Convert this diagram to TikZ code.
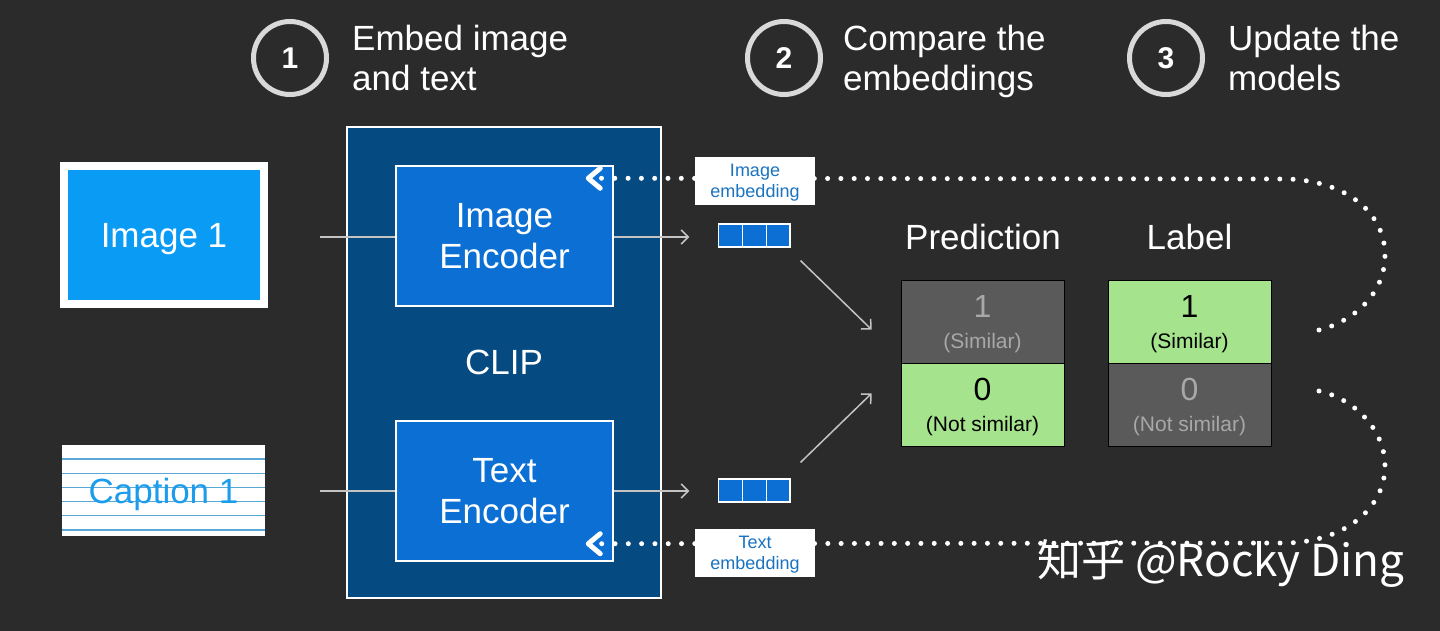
\documentclass[tikz,border=0pt]{standalone}
\usepackage{fontspec}
\setmainfont{Liberation Sans}
\newfontfamily\cjk{Noto Sans CJK SC}
\usetikzlibrary{arrows.meta,positioning,shadows}
\definecolor{bg}{HTML}{2B2B2B}
\definecolor{clipblue}{HTML}{064A82}
\definecolor{encblue}{HTML}{0B6FD3}
\definecolor{imgblue}{HTML}{0A9BF5}
\definecolor{capblue}{HTML}{1B9CEC}
\definecolor{capline}{HTML}{5AA8D6}
\definecolor{embtext}{HTML}{1A73C0}
\definecolor{cellgray}{HTML}{5A5A5A}
\definecolor{celltext}{HTML}{A8A8A8}
\definecolor{cellgreen}{HTML}{A5E38D}
\definecolor{linegray}{HTML}{C4C4C4}
\definecolor{ringgray}{HTML}{D9D9D9}
\tikzset{
  ringnum/.style={circle,draw=ringgray,line width=5pt,minimum size=73pt,inner sep=0pt,text=white,font=\fontsize{30}{30}\selectfont\bfseries},
  ringtext/.style={inner sep=0pt,align=left,text depth=1pt,text=white,font=\fontsize{35}{40}\selectfont},
  bigtext/.style={text=white,font=\fontsize{35}{41}\selectfont},
  clipbox/.style={draw=white,line width=1.5pt,fill=clipblue,minimum width=314pt,minimum height=471pt,bigtext},
  encoder/.style={draw=white,line width=1.5pt,fill=encblue,minimum width=217pt,minimum height=140pt,align=center,bigtext},
  photo/.style={draw=white,line width=8pt,fill=imgblue,minimum width=200pt,minimum height=138pt,text depth=0pt,bigtext,
    drop shadow={opacity=0.6,shadow xshift=1pt,shadow yshift=-4pt}},
  caption/.style={fill=white,minimum width=203pt,minimum height=91pt,text depth=0pt,text=capblue,font=\fontsize{35}{35}\selectfont,
    path picture={\foreach \d in {14,28.2,...,86} \draw[capline,line width=1.3pt]
      ([yshift=-\d pt]path picture bounding box.north west) -- ([yshift=-\d pt]path picture bounding box.north east);}},
  vec/.style={draw=white,line width=1.2pt,fill=encblue,minimum width=23.7pt,minimum height=23pt,inner sep=0pt},
  emblabel/.style={fill=white,minimum width=120pt,minimum height=48pt,align=center,inner sep=0pt,text depth=-2pt,text=embtext,font=\fontsize{18}{21}\selectfont},
  cell/.style={draw=black,line width=0.8pt,minimum width=163pt,minimum height=83pt,align=center,inner sep=0pt,text depth=-3pt,font=\fontsize{21}{31}\selectfont},
  feed/.style={draw=linegray,line width=1.5pt},
  feedarrow/.style={feed,-{Straight Barb[length=7pt,width=14pt]}},
  dotback/.style={draw=white,line width=5pt,line cap=round,dash pattern=on 0pt off 13.3pt,
    -{Straight Barb[length=12pt,width=20pt,line width=5pt,round]}},
}
\newcommand{\bignum}[1]{{\fontsize{32}{32}\selectfont #1}}
\begin{document}
\begin{tikzpicture}[x=1pt,y=-1pt]
\fill[bg] (0,0) rectangle (1440,631);
% the three steps
\node[ringnum] (s1) at (290,58) {1};
\node[ringtext,right=23pt of s1] (t1) {Embed image\\and text};
\node[ringnum] (s2) at (784,58) {2};
\node[ringtext,right=20pt of s2] (t2) {Compare the\\embeddings};
\node[ringnum] (s3) at (1166,58) {3};
\node[ringtext,right=23pt of s3] (t3) {Update the\\models};
% inputs
\node[photo] (img) at (164,235) {Image 1};
\node[caption] (cap) at (163.5,490.5) {Caption 1};
% CLIP with its two encoders
\node[clipbox] (clipnet) at (504,362.5) {CLIP};
\node[encoder] (ienc) at (504.5,236) {Image\\Encoder};
\node[encoder] (tenc) at (504.5,491) {Text\\Encoder};
\coordinate (iin) at (320,237);
\coordinate (tin) at (320,491);
\draw[feed] (iin) -- (ienc.west |- iin);
\draw[feed] (tin) -- (tenc.west |- tin);
% embeddings
\foreach \i in {1,2,3} {
  \node[vec] (iv\i) at (707+23.7*\i,235.5) {};
  \node[vec] (tv\i) at (707+23.7*\i,490.5) {};
}
\draw[feedarrow] (ienc.east |- iin) -- ([xshift=-29pt]iv1.west |- iin);
\draw[feedarrow] (tenc.east |- tin) -- ([xshift=-29pt]tv1.west |- tin);
% prediction and label
\node[bigtext] (predh) at (983,237) {Prediction};
\node[bigtext] (labh) at (1189.5,237) {Label};
\node[cell,fill=cellgray,text=celltext] (p1) at (982.5,321.5) {\bignum{1}\\(Similar)};
\node[cell,fill=cellgreen,text=black] (p0) at (982.5,404.5) {\bignum{0}\\(Not similar)};
\node[cell,fill=cellgreen,text=black] (l1) at (1189.5,321.5) {\bignum{1}\\(Similar)};
\node[cell,fill=cellgray,text=celltext] (l0) at (1189.5,404.5) {\bignum{0}\\(Not similar)};
\draw[feedarrow] ([xshift=10pt,yshift=-13pt]iv3.south east) -- ([xshift=-29pt,yshift=-50pt]p1.north west);
\draw[feedarrow] ([xshift=10pt,yshift=16pt]tv3.north east) -- ([xshift=-29pt,yshift=53pt]p0.south west);
% update loop back to the encoders
\coordinate (itip) at ([xshift=-28pt,yshift=-13pt]ienc.north east);
\coordinate (ttip) at ([xshift=-28pt,yshift=18pt]tenc.south east);
\coordinate (iback) at (1319,330);
\coordinate (tback) at (1319,391);
\draw[dotback] (iback) .. controls (1352,322) and (1385,295) .. (1385,255)
  .. controls (1385,215) and (1350,182) .. (1289,179) -- (itip);
\draw[dotback] (tback) .. controls (1352,398) and (1385,428) .. (1385,466)
  .. controls (1385,505) and (1350,540) .. (1289,543) -- (ttip);
\node[emblabel] (ilab) at (755,181) {Image\\embedding};
\node[emblabel] (tlab) at (755,553) {Text\\embedding};
% watermark
\node[text=white,font=\cjk\fontsize{44}{44}\selectfont] (wm) at (1221,563) {知乎 @Rocky Ding};
\end{tikzpicture}
\end{document}
